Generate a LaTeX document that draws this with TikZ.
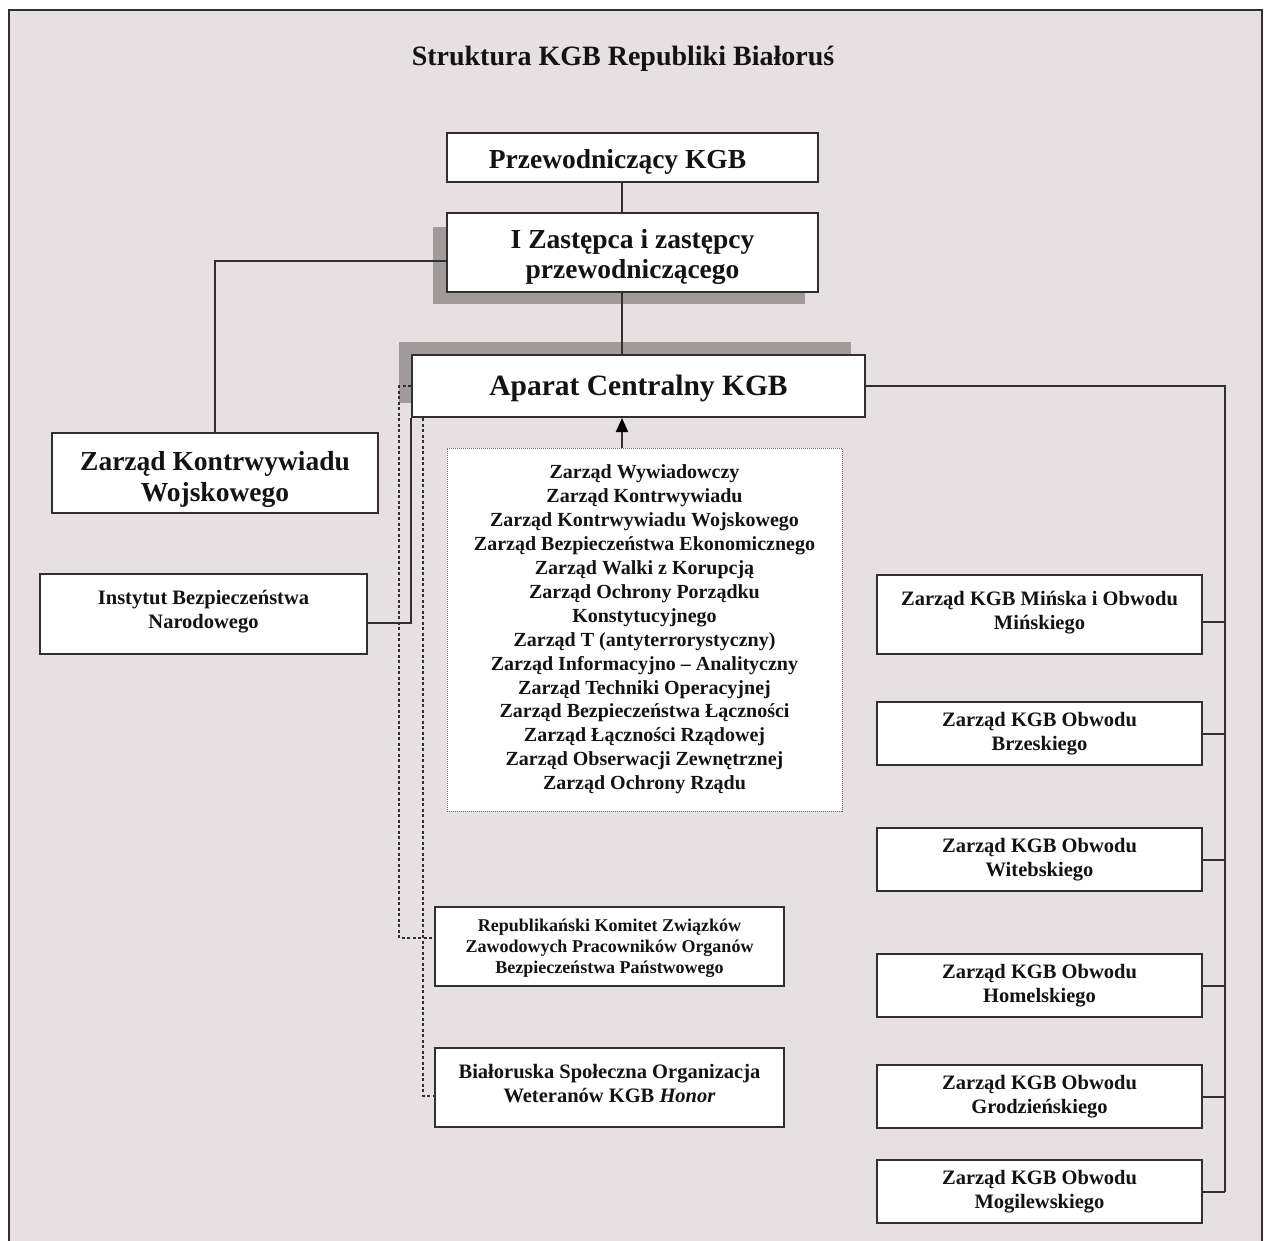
\documentclass[tikz,border=0pt]{standalone}
\usepackage{fontspec}
\setmainfont{Liberation Serif}
\usetikzlibrary{arrows.meta}
\definecolor{bgc}{RGB}{230,224,226}
\definecolor{shc}{RGB}{160,154,155}
\definecolor{lnc}{RGB}{50,47,48}
\definecolor{txc}{RGB}{20,18,19}
\definecolor{dotc}{RGB}{110,106,107}
\newcommand{\shiftdown}[2]{\raisebox{-#1}[\height][\depth]{#2}}
\begin{document}
\begin{tikzpicture}[x=1pt,y=-1pt,
  box/.style={draw=lnc, line width=2pt, fill=white, rectangle, inner sep=0pt, align=center, text=txc},
  bigtxt/.style={font=\bfseries\fontsize{27.5}{31}\selectfont},
  apartxt/.style={font=\bfseries\fontsize{29.5}{32}\selectfont},
  midtxt/.style={font=\bfseries\fontsize{20.5}{24}\selectfont},
  smalltxt/.style={font=\bfseries\fontsize{18}{21}\selectfont},
  listtxt/.style={font=\bfseries\fontsize{20}{23.9}\selectfont},
  conn/.style={draw=lnc, line width=2pt},
  dconn/.style={draw=lnc, line width=1.8pt, dash pattern=on 3pt off 2.5pt},
  shadowfill/.style={fill=shc, draw=none}
]
\useasboundingbox (0,0) rectangle (1264,1240);
% background and frame
\fill[bgc] (9,10) rectangle (1262,1245);
\draw[lnc, line width=1.5pt] (9,1245) -- (9,10) -- (1262,10) -- (1262,1245);

% title
\node[font=\bfseries\fontsize{28}{31}\selectfont, text=txc] (title) at (623,59) {Struktura KGB Republiki Białoruś};

% shadows
\fill[shadowfill] (433,227) rectangle (805,304);
\fill[shadowfill] (399,342) rectangle (851,403);

% top boxes
\node[box, bigtxt, minimum width=371pt, minimum height=49pt] (przew) at (632.5,157.5) {\shiftdown{4pt}{Przewodniczący KGB}\hspace*{30pt}};
\node[box, bigtxt, minimum width=371pt, minimum height=79pt] (zast) at (632.5,252.5) {\shiftdown{5pt}{\begin{tabular}{@{}c@{}}I Zastępca i zastępcy\\[-1pt] przewodniczącego\end{tabular}}};
\node[box, apartxt, minimum width=453pt, minimum height=62pt] (aparat) at (638.5,386) {\shiftdown{2pt}{Aparat Centralny KGB}};
\node[box, bigtxt, minimum width=326pt, minimum height=80pt] (zkw) at (215,473) {\shiftdown{7pt}{\begin{tabular}{@{}c@{}}Zarząd Kontrwywiadu\\ Wojskowego\end{tabular}}};

% list box
\node[box, listtxt, draw=dotc, line width=1pt, dash pattern=on 1pt off 1pt, minimum width=395pt, minimum height=363pt] (list) at (644.5,629.5) {Zarząd Wywiadowczy\\
Zarząd Kontrwywiadu\\
Zarząd Kontrwywiadu Wojskowego\\
Zarząd Bezpieczeństwa Ekonomicznego\\
Zarząd Walki z Korupcją\\
Zarząd Ochrony Porządku\\
Konstytucyjnego\\
Zarząd T (antyterrorystyczny)\\
Zarząd Informacyjno – Analityczny\\
Zarząd Techniki Operacyjnej\\
Zarząd Bezpieczeństwa Łączności\\
Zarząd Łączności Rządowej\\
Zarząd Obserwacji Zewnętrznej\\
Zarząd Ochrony Rządu};

% left / lower boxes
\node[box, midtxt, minimum width=327pt, minimum height=80pt] (inst) at (203.5,614) {\shiftdown{-2pt}{\begin{tabular}{@{}c@{}}Instytut Bezpieczeństwa\\ Narodowego\end{tabular}}};
\node[box, smalltxt, minimum width=349pt, minimum height=79pt] (rep) at (609.5,946.5) {\shiftdown{2pt}{\begin{tabular}{@{}c@{}}Republikański Komitet Związków\\ Zawodowych Pracowników Organów\\ Bezpieczeństwa Państwowego\end{tabular}}};
\node[box, midtxt, minimum width=349pt, minimum height=79pt] (bial) at (609.5,1087.5) {\shiftdown{-2pt}{\begin{tabular}{@{}c@{}}Białoruska Społeczna Organizacja\\ Weteranów KGB \textit{Honor}\end{tabular}}};

% right column
\node[box, midtxt, minimum width=325pt, minimum height=79pt] (minsk) at (1039.5,614.5) {\shiftdown{-2pt}{\begin{tabular}{@{}c@{}}Zarząd KGB Mińska i Obwodu\\ Mińskiego\end{tabular}}};
\node[box, midtxt, minimum width=325pt, minimum height=63pt] (brz) at (1039.5,733.5) {Zarząd KGB Obwodu\\ Brzeskiego};
\node[box, midtxt, minimum width=325pt, minimum height=63pt] (wit) at (1039.5,859.5) {Zarząd KGB Obwodu\\ Witebskiego};
\node[box, midtxt, minimum width=325pt, minimum height=63pt] (hom) at (1039.5,985.5) {Zarząd KGB Obwodu\\ Homelskiego};
\node[box, midtxt, minimum width=325pt, minimum height=63pt] (grod) at (1039.5,1096.5) {Zarząd KGB Obwodu\\ Grodzieńskiego};
\node[box, midtxt, minimum width=325pt, minimum height=63pt] (mog) at (1039.5,1191.5) {Zarząd KGB Obwodu\\ Mogilewskiego};

% connectors
\draw[conn] ([xshift=-10.5pt]przew.south) -- ([xshift=-10.5pt]zast.north);
\draw[conn] ([yshift=-8.5pt]zast.west) -| (zkw.north);
\draw[conn] ([xshift=-10.5pt]zast.south) -- ([xshift=-16.5pt]aparat.north);
\draw[conn, -{Triangle[length=14pt,width=12pt,color=black,fill=black]}] ([xshift=-22.5pt]list.north) -- ([xshift=-16.5pt]aparat.south);

\coordinate (busTop) at (1225,386);
\draw[conn] (aparat.east) -- (busTop) -- (busTop |- mog.east);
\draw[conn] ([yshift=-7.5pt]minsk.east) -- ([yshift=-7.5pt]minsk.east -| busTop);
\draw[conn] (brz.east) -- (brz.east -| busTop);
\draw[conn] (wit.east) -- (wit.east -| busTop);
\draw[conn] (hom.east) -- (hom.east -| busTop);
\draw[conn] (grod.east) -- (grod.east -| busTop);
\draw[conn] (mog.east) -- (mog.east -| busTop);

\draw[conn] (aparat.south west) |- ([yshift=-9pt]inst.east);
\draw[dconn] (aparat.west) -- ++(-12,0) |- ([yshift=8.5pt]rep.west);
\draw[dconn] ([xshift=12pt]aparat.south west) |- ([yshift=-8.5pt]bial.west);
\end{tikzpicture}
\end{document}
